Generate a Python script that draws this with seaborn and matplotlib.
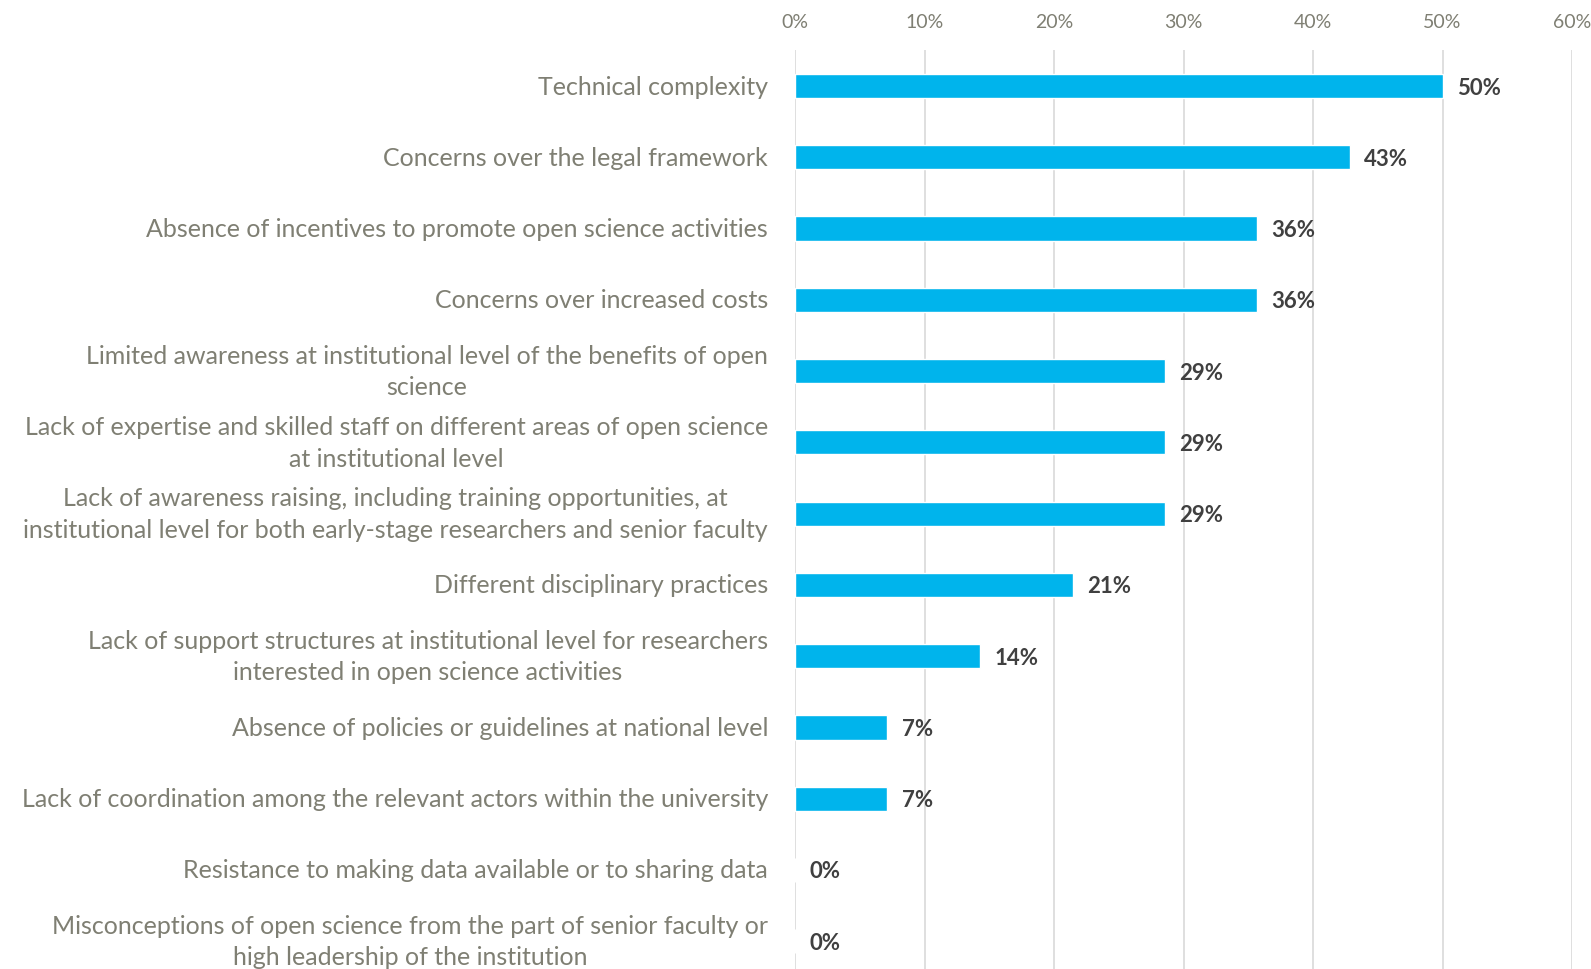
import numpy as np
import pandas as pd
import matplotlib
matplotlib.use("Agg")
import matplotlib.pyplot as plt
import matplotlib.transforms as mtransforms
import seaborn as sns

sns.set_theme(style="white")
plt.rcParams['font.family'] = ['Lato', 'DejaVu Sans']

barriers = [
    "Technical complexity",
    "Concerns over the legal framework",
    "Absence of incentives to promote open science activities",
    "Concerns over increased costs",
    "Limited awareness at institutional level of the benefits of open\nscience",
    "Lack of expertise and skilled staff on different areas of open science\nat institutional level",
    "Lack of awareness raising, including training opportunities, at\ninstitutional level for both early-stage researchers and senior faculty",
    "Different disciplinary practices",
    "Lack of support structures at institutional level for researchers\ninterested in open science activities",
    "Absence of policies or guidelines at national level",
    "Lack of coordination among the relevant actors within the university",
    "Resistance to making data available or to sharing data",
    "Misconceptions of open science from the part of senior faculty or\nhigh leadership of the institution",
]
share = [0.50, 0.4286, 0.3571, 0.3571, 0.2857, 0.2857, 0.2857,
         0.2143, 0.1429, 0.0714, 0.0714, 0.0, 0.0]
ticks = [0, 0.1, 0.2, 0.3, 0.4, 0.5, 0.6]

df = pd.DataFrame({'barrier': barriers, 'share': share})

fig = plt.figure(figsize=(15.91, 9.69), dpi=100)
ax = fig.add_axes([795 / 1591, 0, (1572 - 795) / 1591, (969 - 50.4) / 969])

sns.barplot(data=df, x='share', y='barrier', color='#00B4EC', width=0.34,
            saturation=1, ax=ax, orient='h')

ax.set_xlim(0, 0.6)
ax.set_ylim(12.39, -0.5)
ax.set_xticks(ticks)
ax.set_xticklabels([f"{int(t * 100)}%" for t in ticks])
ax.xaxis.tick_top()
ax.tick_params(axis='x', colors='#7F7F73', labelsize=14, length=0, pad=14)
ax.set_yticklabels([])
ax.tick_params(axis='y', length=0)
ax.grid(axis='x', color='#D9D9D9', linewidth=1.2)
ax.set_axisbelow(True)
for s in ax.spines.values():
    s.set_visible(False)
ax.set_xlabel('')
ax.set_ylabel('')

# category labels, drawn left of the axis
trans = mtransforms.blended_transform_factory(ax.transAxes, ax.transData)
for i, lab in enumerate(barriers):
    t = trans + mtransforms.ScaledTranslation(-27 / 100, -1 / 100, fig.dpi_scale_trans)
    ax.text(0, i, lab, transform=t, ha='right', va='center', multialignment='center',
            linespacing=1.45, fontsize=18, color='#7F7F73')

for i, v in enumerate(share):
    ax.text(v + 0.011, i, f"{round(v * 100):.0f}%", va='center_baseline', ha='left',
            fontsize=16, fontweight='bold', color='#404040')

fig.savefig('out.png', dpi=100)
